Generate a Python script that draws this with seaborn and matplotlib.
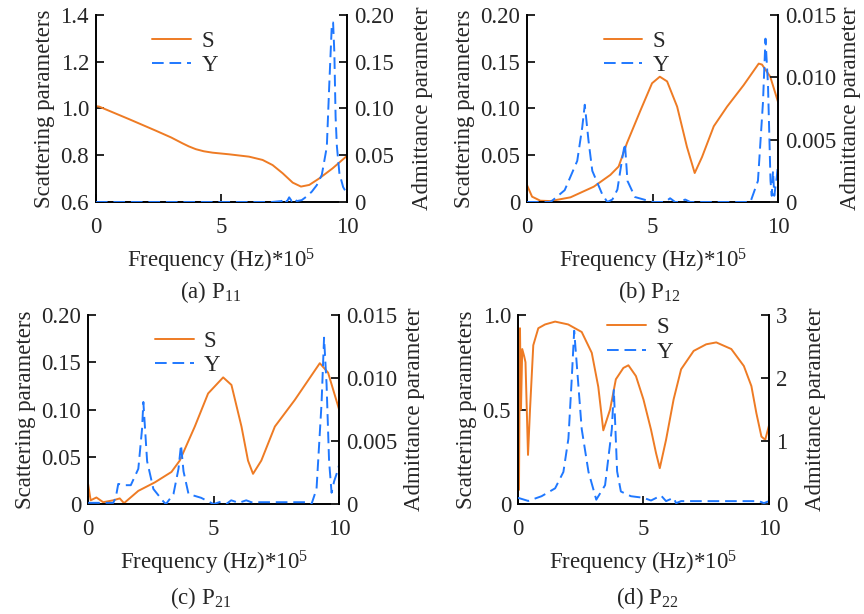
import numpy as np
import pandas as pd
import matplotlib
matplotlib.use("Agg")
import matplotlib.pyplot as plt
import seaborn as sns

################ DATA ################

# (a) P11
a_s_x = [0, 0.13, 1.33, 2.39, 3.0, 3.45, 3.7, 3.98, 4.3, 4.65, 5.31, 6.1, 6.64, 7.04, 7.44, 7.84, 8.17,
         8.5, 8.9, 9.43, 10]
a_s_y = [1.01, 1.008, 0.954, 0.905, 0.876, 0.851, 0.838, 0.826, 0.817, 0.811, 0.804, 0.794, 0.78, 0.758,
         0.723, 0.683, 0.666, 0.673, 0.701, 0.744, 0.797]
a_y_x = [0, 7.0, 7.4, 7.5, 7.6, 7.7, 7.8, 7.9, 8.0, 8.2, 8.4, 8.6, 8.8, 9.0, 9.2, 9.3, 9.4, 9.45,
         9.5, 9.55, 9.6, 9.7, 9.85, 10.0]
a_y_y = [0, 0, 0.001, 0.004, 0.0, 0.005, 0.001, 0.004, 0.001, 0.002, 0.006, 0.011, 0.018, 0.029, 0.059,
         0.127, 0.19, 0.192, 0.16, 0.091, 0.06, 0.031, 0.016, 0.009]

# (b) P12
b_s_x = [0, 0.2, 0.53, 0.93, 1.73, 2.66, 3.32, 3.65, 3.98, 4.52, 4.98, 5.29, 5.58, 5.98, 6.37, 6.68,
         6.97, 7.44, 7.97, 8.63, 9.23, 9.36, 9.69, 10]
b_s_y = [0.018, 0.0057, 0.0014, 0.001, 0.005, 0.0164, 0.029, 0.038, 0.063, 0.098, 0.127, 0.134, 0.129,
         0.102, 0.059, 0.031, 0.048, 0.081, 0.102, 0.125, 0.148, 0.147, 0.134, 0.107]
b_y_x = [0, 0.9, 1.0, 1.5, 2.0, 2.2, 2.3, 2.45, 2.6, 3.0, 3.2, 3.4, 3.6, 3.8, 3.9, 4.0, 4.3, 5.0, 5.5,
         5.7, 5.9, 6.1, 6.3, 6.5, 8.9, 9.2, 9.4, 9.5, 9.6, 9.7, 9.75, 9.8, 9.85, 9.95, 10.0]
b_y_y = [0, 0, 0.0001, 0.00095, 0.0033, 0.006, 0.0078, 0.0049, 0.0025, 0.0006, 0, 0.0002, 0.001,
         0.0036, 0.0047, 0.0017, 0.0004, 0, 0, 0.0003, 0, 0, 0.0002, 0, 0, 0.0017, 0.008, 0.0131,
         0.0094, 0.0017, 0.0005, 0.0025, 0.0005, 0.002, 0.003]

# (c) P21
c_s_x = [0, 0.1, 0.33, 0.6, 1.0, 1.26, 1.43, 2.0, 2.66, 3.32, 3.65, 4.25, 4.78, 5.38, 5.71, 6.11, 6.37,
         6.57, 6.9, 7.44, 8.23, 9.23, 9.56, 10]
c_s_y = [0.021, 0.004, 0.007, 0.002, 0.004, 0.006, 0.001, 0.014, 0.023, 0.034, 0.046, 0.082, 0.117,
         0.134, 0.126, 0.082, 0.046, 0.032, 0.046, 0.082, 0.11, 0.149, 0.139, 0.1]
c_y_x = [0, 1.0, 1.1, 1.2, 1.5, 1.7, 2.0, 2.15, 2.2, 2.35, 2.6, 3.0, 3.1, 3.4, 3.6, 3.7, 3.8, 4.0, 4.5,
         5.0, 5.3, 5.5, 5.7, 6.0, 6.3, 6.5, 8.7, 8.9, 9.1, 9.3, 9.4, 9.5, 9.6, 9.7, 9.8, 9.9, 10.0]
c_y_y = [0.0001, 0.0001, 0.0005, 0.0016, 0.0015, 0.0015, 0.0028, 0.006, 0.0081, 0.0034, 0.0012, 0.0002,
         0, 0.0008, 0.0028, 0.0047, 0.0026, 0.0008, 0.0005, 0, 0.0002, 0, 0.0003, 0.0001, 0.0003,
         0.00015, 0.00015, 0, 0.0012, 0.008, 0.0132, 0.0095, 0.0034, 0.0009, 0.0018, 0.0024, 0.0031]

# (d) P22
d_s_x = [0, 0.04, 0.08, 0.12, 0.17, 0.25, 0.3, 0.4, 0.48, 0.61, 0.81, 1.08, 1.48, 2.0, 2.54, 2.94, 3.2,
         3.4, 3.67, 3.9, 4.2, 4.4, 4.7, 5.0, 5.3, 5.5, 5.65, 5.9, 6.2, 6.5, 7, 7.5, 7.9, 8.5, 9, 9.3,
         9.5, 9.7, 9.85, 10]
d_s_y = [0.98, 0.075, 0.93, 0.5, 0.82, 0.78, 0.75, 0.26, 0.5, 0.84, 0.93, 0.95, 0.965, 0.95, 0.91, 0.8,
         0.62, 0.39, 0.5, 0.66, 0.72, 0.734, 0.677, 0.553, 0.394, 0.27, 0.19, 0.34, 0.553, 0.713, 0.81,
         0.845, 0.855, 0.82, 0.73, 0.624, 0.48, 0.357, 0.34, 0.415]
d_y_x = [0, 0.41, 0.94, 1.48, 1.81, 2.01, 2.14, 2.24, 2.34, 2.54, 2.81, 3.12, 3.47, 3.74, 3.82, 3.95,
         4.1, 4.5, 5.0, 5.3, 5.7, 5.9, 6.2, 6.3, 6.5, 9.6, 9.8, 10.0]
d_y_y = [0.1, 0.05, 0.125, 0.25, 0.51, 1.04, 1.97, 2.75, 2.23, 1.19, 0.51, 0.07, 0.3, 1.19, 1.81, 0.52,
         0.2, 0.125, 0.1, 0.057, 0.136, 0.047, 0.1, 0.015, 0.047, 0.047, 0.015, 0.047]

captions = ["(a) P$_{11}$", "(b) P$_{12}$", "(c) P$_{21}$", "(d) P$_{22}$"]
left_ylims = [(0.6, 1.4), (0, 0.2), (0, 0.2), (0, 1.0)]
left_ticks = [[0.6, 0.8, 1.0, 1.2, 1.4], [0, 0.05, 0.1, 0.15, 0.2], [0, 0.05, 0.1, 0.15, 0.2], [0, 0.5, 1.0]]
left_labels = [["0.6", "0.8", "1.0", "1.2", "1.4"], ["0", "0.05", "0.10", "0.15", "0.20"],
               ["0", "0.05", "0.10", "0.15", "0.20"], ["0", "0.5", "1.0"]]
right_ylims = [(0, 0.2), (0, 0.015), (0, 0.015), (0, 3)]
right_ticks = [[0, 0.05, 0.1, 0.15, 0.2], [0, 0.005, 0.01, 0.015], [0, 0.005, 0.01, 0.015], [0, 1, 2, 3]]
right_labels = [["0", "0.05", "0.10", "0.15", "0.20"], ["0", "0.005", "0.010", "0.015"],
                ["0", "0.005", "0.010", "0.015"], ["0", "1", "2", "3"]]

################ STYLE ################

sns.set_style("ticks")
plt.rcParams['font.family'] = ['Liberation Serif', 'DejaVu Serif']
plt.rcParams['mathtext.fontset'] = 'custom'
plt.rcParams['mathtext.rm'] = 'Liberation Serif'
plt.rcParams['mathtext.it'] = 'Liberation Serif:italic'

ORANGE = '#EE7B24'
BLUE = '#1F78FF'
FS = 16.5

fig = plt.figure(figsize=(8.64, 6.14), dpi=100)

rects = [
    [0.111, 0.671, 0.2905, 0.3046],
    [0.610, 0.671, 0.2905, 0.3046],
    [0.102, 0.179, 0.2905, 0.308],
    [0.5995, 0.179, 0.2905, 0.308],
]
legend_anchor = [(0.17, 0.99), (0.25, 0.99), (0.21, 0.99), (0.3, 1.06)]
right_pad = [13, 3, 5, 13]
caption_pos = [(0.244, 0.524), (0.751, 0.524), (0.232, 0.026), (0.749, 0.026)]

panels = [
    (a_s_x, a_s_y, a_y_x, a_y_y),
    (b_s_x, b_s_y, b_y_x, b_y_y),
    (c_s_x, c_s_y, c_y_x, c_y_y),
    (d_s_x, d_s_y, d_y_x, d_y_y),
]

for i, (sx, sy, yx, yy) in enumerate(panels):
    ax = fig.add_axes(rects[i])
    ax2 = ax.twinx()

    s_df = pd.DataFrame({'f': sx, 'v': sy})
    y_df = pd.DataFrame({'f': yx, 'v': yy})

    sns.lineplot(data=s_df, x='f', y='v', ax=ax, color=ORANGE, lw=1.4, label='S', legend=False)
    sns.lineplot(data=y_df, x='f', y='v', ax=ax2, color=BLUE, lw=1.4, label='Y', legend=False)
    ax2.lines[0].set_dashes((6, 3))

    ax.set_xlim(0, 10)
    ax.set_ylim(*left_ylims[i])
    ax2.set_ylim(*right_ylims[i])
    ax.set_xticks([0, 5, 10])
    ax.set_yticks(left_ticks[i])
    ax.set_yticklabels(left_labels[i])
    ax2.set_yticks(right_ticks[i])
    ax2.set_yticklabels(right_labels[i])

    for a in (ax, ax2):
        a.spines['top'].set_visible(False)
        for sp in a.spines.values():
            sp.set_linewidth(1.4)
            sp.set_color('black')
    ax.spines['right'].set_visible(False)
    ax2.spines['left'].set_visible(False)
    ax2.spines['bottom'].set_visible(False)

    ax.tick_params(axis='x', direction='in', length=6, width=1.4, pad=11, labelsize=FS)
    ax.tick_params(axis='y', direction='in', length=6, width=1.4, pad=5, labelsize=FS)
    ax2.tick_params(axis='y', direction='in', length=6, width=1.4, pad=5, labelsize=FS)

    ax.set_xlabel("Frequency (Hz)*10$^5$", fontsize=FS, labelpad=6)
    ax.set_ylabel("Scattering parameters", fontsize=FS, labelpad=4)
    ax2.set_ylabel("Admittance parameter", fontsize=FS, labelpad=right_pad[i])

    handles = ax.get_lines()[:1] + ax2.get_lines()[:1]
    ax2.legend(handles, ['S', 'Y'], loc='upper left', bbox_to_anchor=legend_anchor[i], frameon=False,
               fontsize=FS, handlelength=1.7, handletextpad=0.45, labelspacing=0.15, borderaxespad=0.2)

    fig.text(caption_pos[i][0], caption_pos[i][1], captions[i], ha='center', va='center', fontsize=FS)

fig.savefig("out.png", dpi=100)
